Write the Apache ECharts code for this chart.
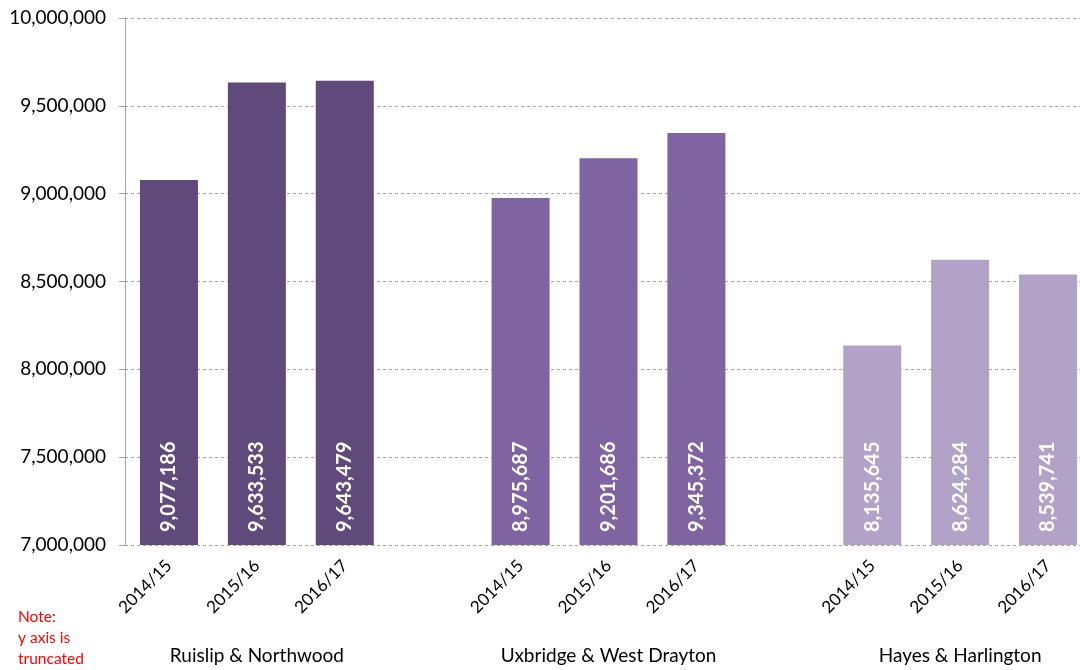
<!DOCTYPE html>
<html><head><meta charset="utf-8">
<script src="https://cdn.jsdelivr.net/npm/echarts@6/dist/echarts.min.js"></script>
<style>html,body{margin:0;padding:0;background:#fff;overflow:hidden}#c{width:1080px;height:670px}</style>
</head><body><div id="c"></div>
<script>
const groups = ['Ruislip & Northwood', 'Uxbridge & West Drayton', 'Hayes & Harlington'];
const years = ['2014/15', '2015/16', '2016/17'];
const ruislip = [9077186, 9633533, 9643479];
const uxbridge = [8975687, 9201686, 9345372];
const hayes = [8135645, 8624284, 8539741];
const groupColors = ['#604A7B', '#8064A2', '#B3A2C7'];
const yTicks = [7000000, 7500000, 8000000, 8500000, 9000000, 9500000, 10000000];

const allValues = [ruislip, uxbridge, hayes];
const cats = [], data = [], groupCats = [];
allValues.forEach((vals, g) => {
  vals.forEach((v, i) => {
    cats.push(years[i]);
    groupCats.push(i === 1 ? groups[g] : '');
    data.push({ value: v, itemStyle: { color: groupColors[g] } });
  });
  if (g < allValues.length - 1) { cats.push(''); groupCats.push(''); data.push(null); }
});

const fmt = v => v.toLocaleString('en-US');
const chart = echarts.init(document.getElementById('c'), null, { renderer: 'canvas' });
chart.setOption({
  animation: false,
  textStyle: { fontFamily: 'Lato' },
  grid: { left: 125, width: 967, top: 18, bottom: 125, outerBoundsMode: 'none', containLabel: false },
  xAxis: [{
    type: 'category', data: cats,
    axisLine: { show: false }, axisTick: { show: false },
    axisLabel: { rotate: 45, fontSize: 17, color: '#000', margin: 18, fontFamily: 'Lato', interval: 0 }
  }, {
    type: 'category', data: groupCats, position: 'bottom', offset: 0,
    axisLine: { show: false }, axisTick: { show: false },
    axisLabel: { fontSize: 19, color: '#000', margin: 101, fontFamily: 'Lato', interval: 0 }
  }],
  yAxis: {
    type: 'value', min: yTicks[0], max: yTicks[yTicks.length - 1], interval: 500000,
    axisLine: { show: true, lineStyle: { color: '#a6a6a6' } },
    axisTick: { show: true, length: 6, lineStyle: { color: '#a6a6a6' } },
    axisLabel: { fontSize: 19, color: '#000', margin: 19, formatter: fmt, fontFamily: 'Lato' },
    splitLine: { lineStyle: { type: [3, 3], color: '#a6a6a6' } }
  },
  graphic: [{
    type: 'text', left: 18, top: 606,
    style: { text: 'Note:\ny axis is\ntruncated', fill: '#ff0000', font: '15.5px Lato', lineHeight: 21 }
  }],
  series: [{
    type: 'bar', data: data, barWidth: '66%', xAxisIndex: 0,
    label: {
      show: true, position: 'insideBottom', rotate: 90, align: 'left', verticalAlign: 'middle',
      distance: 13, color: '#fff', fontSize: 20, fontWeight: 'bold', fontFamily: 'Lato',
      formatter: p => fmt(p.value)
    }
  }]
});
</script></body></html>
